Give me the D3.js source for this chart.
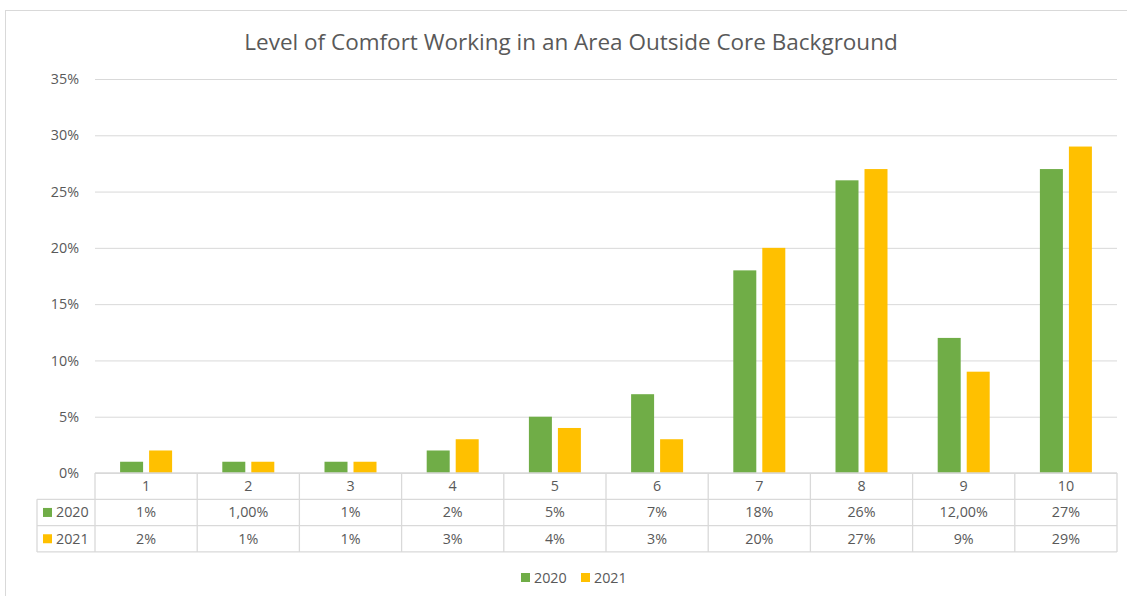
<!DOCTYPE html>
<html>
<head>
<meta charset="utf-8">
<script src="https://cdn.jsdelivr.net/npm/d3@7"></script>
<style>
  html, body { margin: 0; padding: 0; background: #fff; }
  svg { display: block; font-family: "Open Sans", "Liberation Sans", sans-serif; }
</style>
</head>
<body>
<svg id="chart" width="1127" height="596"></svg>
<script>
const categories = ["1", "2", "3", "4", "5", "6", "7", "8", "9", "10"];
const seriesNames = ["2020", "2021"];
const values2020 = [1, 1, 1, 2, 5, 7, 18, 26, 12, 27];
const values2021 = [2, 1, 1, 3, 4, 3, 20, 27, 9, 29];
const labels2020 = ["1%", "1,00%", "1%", "2%", "5%", "7%", "18%", "26%", "12,00%", "27%"];
const labels2021 = ["2%", "1%", "1%", "3%", "4%", "3%", "20%", "27%", "9%", "29%"];
const yTicks = [0, 5, 10, 15, 20, 25, 30, 35];
const colors = ["#70AD47", "#FFC000"];
const title = "Level of Comfort Working in an Area Outside Core Background";

const seriesValues = [values2020, values2021];
const seriesLabels = [labels2020, labels2021];

const svg = d3.select("#chart");
const W = 1127, H = 596;
const textColor = "#595959";
const lineColor = "#d9d9d9";
const fs = 14.3;

// outer chart border
svg.append("rect")
  .attr("x", 5.5).attr("y", 10.5)
  .attr("width", W + 10).attr("height", H + 10)
  .attr("fill", "none").attr("stroke", lineColor).attr("stroke-width", 1);

const plot = { left: 95, right: 1117, top: 79, bottom: 473 };

const x0 = d3.scaleBand().domain(categories).range([plot.left, plot.right]).padding(0);
const groupW = 52;
const x1 = d3.scaleBand().domain(seriesNames)
  .range([x0.bandwidth() / 2 - groupW / 2, x0.bandwidth() / 2 + groupW / 2])
  .paddingInner(0.207).paddingOuter(0);
const y = d3.scaleLinear().domain([0, 35]).range([plot.bottom, plot.top]);

// title
svg.append("text")
  .attr("x", 571).attr("y", 50)
  .attr("text-anchor", "middle")
  .attr("font-size", 22.5)
  .attr("fill", textColor)
  .text(title);

// gridlines + y axis labels via d3 axis
const yAxis = d3.axisLeft(y).tickValues(yTicks)
  .tickSize(-(plot.right - plot.left)).tickPadding(16)
  .tickFormat(d => d + "%");
const gy = svg.append("g").attr("transform", `translate(${plot.left},0)`).call(yAxis);
gy.select(".domain").remove();
gy.selectAll(".tick line").attr("stroke", lineColor).attr("stroke-width", 1);
gy.selectAll(".tick text").attr("fill", textColor).attr("font-size", fs)
  .attr("font-family", "'Open Sans', sans-serif");

// bars
const groups = svg.append("g").selectAll("g")
  .data(categories)
  .join("g")
  .attr("transform", d => `translate(${x0(d)},0)`);

groups.selectAll("rect")
  .data((d, i) => seriesNames.map((s, j) => ({ s, v: seriesValues[j][i], c: colors[j] })))
  .join("rect")
  .attr("x", d => x1(d.s))
  .attr("width", x1.bandwidth())
  .attr("y", d => y(d.v))
  .attr("height", d => y(0) - y(d.v))
  .attr("fill", d => d.c);

// data table
const rowH = 26.3;
const tTop = plot.bottom;
const legendColLeft = 37;
const tbl = svg.append("g");
const rowsY = [tTop, tTop + rowH, tTop + 2 * rowH, tTop + 3 * rowH];

// horizontal lines
tbl.append("line").attr("x1", plot.left).attr("x2", plot.right)
  .attr("y1", rowsY[0]).attr("y2", rowsY[0]);
for (let r = 1; r <= 3; r++) {
  tbl.append("line").attr("x1", legendColLeft).attr("x2", plot.right)
    .attr("y1", rowsY[r]).attr("y2", rowsY[r]);
}
// vertical lines
const bounds = categories.map(c => x0(c)).concat([plot.right]);
bounds.forEach(bx => {
  tbl.append("line").attr("x1", bx).attr("x2", bx).attr("y1", rowsY[0]).attr("y2", rowsY[3]);
});
tbl.append("line").attr("x1", legendColLeft).attr("x2", legendColLeft)
  .attr("y1", rowsY[1]).attr("y2", rowsY[3]);
tbl.selectAll("line").attr("stroke", lineColor).attr("stroke-width", 1.3);

// header labels
tbl.selectAll("text.cat").data(categories).join("text")
  .attr("class", "cat")
  .attr("x", d => x0(d) + x0.bandwidth() / 2)
  .attr("y", rowsY[0] + rowH / 2)
  .attr("dy", "0.35em")
  .attr("text-anchor", "middle")
  .attr("font-size", fs).attr("fill", textColor)
  .text(d => d);

// value rows
seriesNames.forEach((s, j) => {
  const cy = rowsY[j + 1] + rowH / 2;
  tbl.append("rect").attr("x", 43).attr("y", cy - 4.5).attr("width", 9).attr("height", 9)
    .attr("fill", colors[j]);
  tbl.append("text").attr("x", 56).attr("y", cy).attr("dy", "0.35em")
    .attr("font-size", fs).attr("fill", textColor).text(s);
  tbl.selectAll("text.v" + j).data(seriesLabels[j]).join("text")
    .attr("class", "v" + j)
    .attr("x", (d, i) => x0(categories[i]) + x0.bandwidth() / 2)
    .attr("y", cy).attr("dy", "0.35em")
    .attr("text-anchor", "middle")
    .attr("font-size", fs).attr("fill", textColor)
    .text(d => d);
});

// legend
const legend = svg.append("g");
const legendX = [521, 581];
seriesNames.forEach((s, j) => {
  legend.append("rect").attr("x", legendX[j]).attr("y", 573).attr("width", 9).attr("height", 9)
    .attr("fill", colors[j]);
  legend.append("text").attr("x", legendX[j] + 13).attr("y", 577.5).attr("dy", "0.35em")
    .attr("font-size", fs).attr("fill", textColor).text(s);
});
</script>
</body>
</html>
